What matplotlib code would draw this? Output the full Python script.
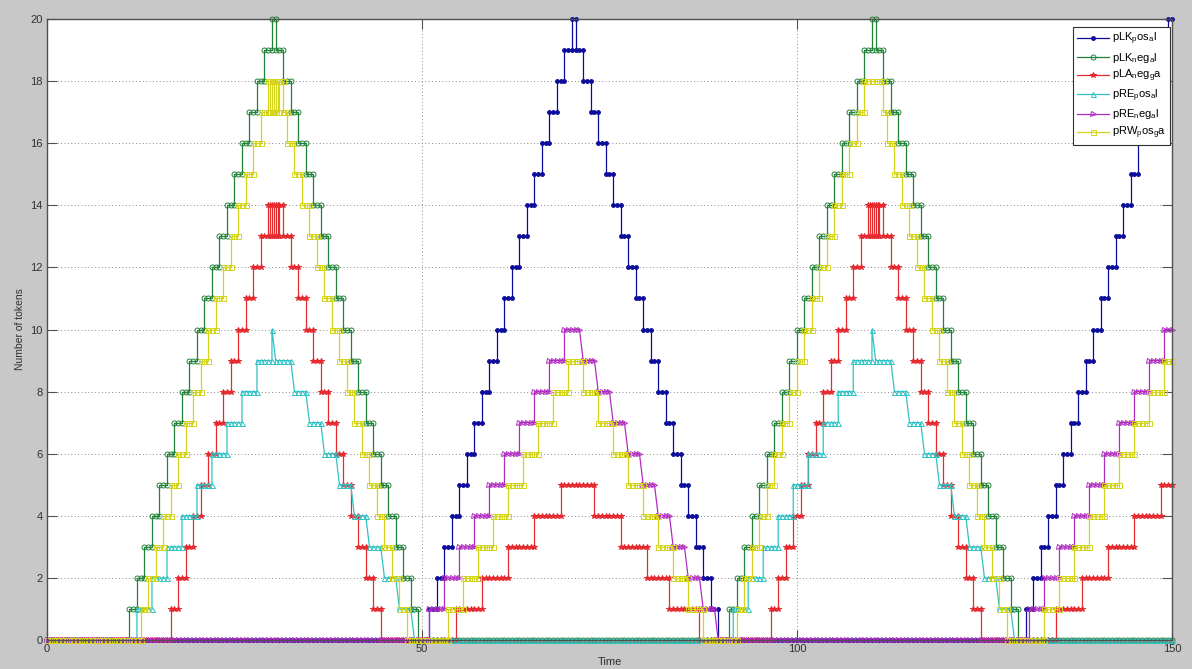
import numpy as np
import matplotlib
matplotlib.use('Agg')
import matplotlib.pyplot as plt

plt.rcParams['font.family'] = ['Liberation Sans', 'DejaVu Sans']
plt.rcParams['mathtext.default'] = 'regular'

# sampling times of the simulation
t_grid = np.arange(0, 150.5, 0.5)

# change points per place: time of change, new number of tokens (0 before the first change)
lk_pos_t = [51, 52, 53, 54, 55, 56, 57, 58, 59, 60, 61, 62, 63, 64, 65, 66, 67, 68, 69, 70,
            70.5, 71.5, 72.5, 73.5, 74.5, 75.5, 76.5, 77.5, 78.5, 79.5, 80.5, 81.5, 82.5, 83.5,
            84.5, 85.5, 86.5, 87.5, 88.5, 89.5,
            130.5, 131.5, 132.5, 133.5, 134.5, 135.5, 136.5, 137.5, 138.5, 139.5, 140.5, 141.5,
            142.5, 143.5, 144.5, 145.5, 146.5, 147.5, 148.5, 149.5]
lk_pos_v = [1, 2, 3, 4, 5, 6, 7, 8, 9, 10, 11, 12, 13, 14, 15, 16, 17, 18, 19, 20,
            19, 18, 17, 16, 15, 14, 13, 12, 11, 10, 9, 8, 7, 6, 5, 4, 3, 2, 1, 0,
            1, 2, 3, 4, 5, 6, 7, 8, 9, 10, 11, 12, 13, 14, 15, 16, 17, 18, 19, 20]

lk_neg_t = [11, 12, 13, 14, 15, 16, 17, 18, 19, 20, 21, 22, 23, 24, 25, 26, 27, 28, 29, 30,
            30.5, 31.5, 32.5, 33.5, 34.5, 35.5, 36.5, 37.5, 38.5, 39.5, 40.5, 41.5, 42.5, 43.5,
            44.5, 45.5, 46.5, 47.5, 48.5, 49.5,
            91, 92, 93, 94, 95, 96, 97, 98, 99, 100, 101, 102, 103, 104, 105, 106, 107, 108, 109, 110,
            110.5, 111.5, 112.5, 113.5, 114.5, 115.5, 116.5, 117.5, 118.5, 119.5, 120.5, 121.5,
            122.5, 123.5, 124.5, 125.5, 126.5, 127.5, 128.5, 129.5]
lk_neg_v = [1, 2, 3, 4, 5, 6, 7, 8, 9, 10, 11, 12, 13, 14, 15, 16, 17, 18, 19, 20,
            19, 18, 17, 16, 15, 14, 13, 12, 11, 10, 9, 8, 7, 6, 5, 4, 3, 2, 1, 0,
            1, 2, 3, 4, 5, 6, 7, 8, 9, 10, 11, 12, 13, 14, 15, 16, 17, 18, 19, 20,
            19, 18, 17, 16, 15, 14, 13, 12, 11, 10, 9, 8, 7, 6, 5, 4, 3, 2, 1, 0]

la_neg_t = [16.5, 17.5, 18.5, 19.5, 20.5, 21.5, 22.5, 23.5, 24.5, 25.5, 26.5, 27.5, 28.5,
            29.5, 29.75, 30, 30.25, 30.5, 30.75, 31, 31.5,
            32.5, 33.5, 34.5, 35.5, 36.5, 37.5, 38.5, 39.5, 40.5, 41.5, 42.5, 43.5, 44.5,
            54.5, 58, 61.5, 65, 68.5, 73, 76.5, 80, 83, 87,
            96.5, 97.5, 98.5, 99.5, 100.5, 101.5, 102.5, 103.5, 104.5, 105.5, 106.5, 107.5, 108.5,
            109.5, 109.75, 110, 110.25, 110.5, 110.75, 111, 111.5,
            112.5, 113.5, 114.5, 115.5, 116.5, 117.5, 118.5, 119.5, 120.5, 121.5, 122.5, 123.5, 124.5,
            134.5, 138, 141.5, 145, 148.5]
la_neg_v = [1, 2, 3, 4, 5, 6, 7, 8, 9, 10, 11, 12, 13,
            14, 13, 14, 13, 14, 13, 14, 13,
            12, 11, 10, 9, 8, 7, 6, 5, 4, 3, 2, 1, 0,
            1, 2, 3, 4, 5, 4, 3, 2, 1, 0,
            1, 2, 3, 4, 5, 6, 7, 8, 9, 10, 11, 12, 13,
            14, 13, 14, 13, 14, 13, 14, 13,
            12, 11, 10, 9, 8, 7, 6, 5, 4, 3, 2, 1, 0,
            1, 2, 3, 4, 5]

re_pos_t = [12, 14, 16, 18, 20, 22, 24, 26, 28, 30, 30.5, 33, 35, 37, 39, 41, 43, 45, 47, 49,
            91.5, 93.5, 95.5, 97.5, 99.5, 101.5, 103.5, 105.5, 107.5, 110, 110.5,
            113, 115, 117, 119, 121, 123, 125, 127, 129]
re_pos_v = [1, 2, 3, 4, 5, 6, 7, 8, 9, 10, 9, 8, 7, 6, 5, 4, 3, 2, 1, 0,
            1, 2, 3, 4, 5, 6, 7, 8, 9, 10, 9, 8, 7, 6, 5, 4, 3, 2, 1, 0]

re_neg_t = [51, 53, 55, 57, 59, 61, 63, 65, 67, 69, 71.5, 73.5, 75.5, 77.5, 79.5, 81.5, 83.5,
            85.5, 87.5, 89.5,
            131, 133, 135, 137, 139, 141, 143, 145, 147, 149]
re_neg_v = [1, 2, 3, 4, 5, 6, 7, 8, 9, 10, 9, 8, 7, 6, 5, 4, 3, 2, 1, 0,
            1, 2, 3, 4, 5, 6, 7, 8, 9, 10]

rw_pos_t = [12.5, 13.5, 14.5, 15.5, 16.5, 17.5, 18.5, 19.5, 20.5, 21.5, 22.5, 23.5, 24.5, 25.5,
            26.5, 27.5, 28.5,
            29.5, 29.75, 30, 30.25, 30.5, 30.75, 31, 31.5,
            32, 33, 34, 35, 36, 37, 38, 39, 40, 41, 42, 43, 44, 45, 46, 47, 48,
            53.5, 55.5, 57.5, 59.5, 61.5, 63.5, 65.5, 67.5, 69.5, 71.5, 73.5, 75.5, 77.5, 79.5,
            81.5, 83.5, 85.5, 87.5,
            92, 93, 94, 95, 96, 97, 98, 99, 100, 101, 102, 103, 104, 105, 106, 107, 108, 109,
            111.5, 112, 113, 114, 115, 116, 117, 118, 119, 120, 121, 122, 123, 124, 125, 126, 127, 128,
            133, 135, 137, 139, 141, 143, 145, 147, 149]
rw_pos_v = [1, 2, 3, 4, 5, 6, 7, 8, 9, 10, 11, 12, 13, 14, 15, 16, 17,
            18, 17, 18, 17, 18, 17, 18, 17,
            16, 15, 14, 13, 12, 11, 10, 9, 8, 7, 6, 5, 4, 3, 2, 1, 0,
            1, 2, 3, 4, 5, 6, 7, 8, 9, 8, 7, 6, 5, 4, 3, 2, 1, 0,
            1, 2, 3, 4, 5, 6, 7, 8, 9, 10, 11, 12, 13, 14, 15, 16, 17, 18,
            17, 16, 15, 14, 13, 12, 11, 10, 9, 8, 7, 6, 5, 4, 3, 2, 1, 0,
            1, 2, 3, 4, 5, 6, 7, 8, 9]

labels = [r'pLK$_p$os$_a$l', r'pLK$_n$eg$_a$l', r'pLA$_n$eg$_g$a',
          r'pRE$_p$os$_a$l', r'pRE$_n$eg$_a$l', r'pRW$_p$os$_g$a']


def build(ch_t, ch_v, slant=False):
    # token count at every sample, plus the old value at each change time
    ch_t = np.asarray(ch_t, float)
    ch_v = np.asarray(ch_v, float)

    def level(x):
        i = np.searchsorted(ch_t, x, side='right') - 1
        return float(ch_v[i]) if i >= 0 else 0.0

    pts = []
    for x in t_grid:
        if not np.any(np.isclose(ch_t, x)):
            pts.append((x, 1, level(x)))
    for x, v in zip(ch_t, ch_v):
        before = level(x - 1e-6)
        if v > before or not slant:
            pts.append((x, 0, before))
        pts.append((x, 1, v))
    pts.sort()
    return [p[0] for p in pts], [p[2] for p in pts]


fig = plt.figure(figsize=(11.92, 6.69), dpi=100, facecolor='#c8c8c8')
ax = fig.add_axes([0.0394, 0.0433, 0.9438, 0.9283])
ax.set_facecolor('white')

series = [
    (lk_pos_t, lk_pos_v, False, '#0c0c9c', '.', 5.5, '#0c0c9c'),
    (lk_neg_t, lk_neg_v, False, '#23823a', 'o', 3.6, 'none'),
    (la_neg_t, la_neg_v, False, '#e42a2e', '*', 4.2, '#e42a2e'),
    (re_pos_t, re_pos_v, True, '#30c2c4', '^', 3.6, 'none'),
    (re_neg_t, re_neg_v, True, '#b02cc0', '>', 3.6, 'none'),
    (rw_pos_t, rw_pos_v, False, '#d4d41c', 's', 3.6, 'none'),
]

for (ct, cv, sl, col, mk, ms, mfc), lab in zip(series, labels):
    xs, ys = build(ct, cv, sl)
    ax.plot(xs, ys, color=col, lw=0.9, marker=mk, ms=ms, mfc=mfc, mec=col, mew=0.7,
            label=lab, clip_on=False)

ax.set_xlim(0, 150)
ax.set_ylim(0, 20)
ax.set_xticks([0, 50, 100, 150])
ax.set_yticks(np.arange(0, 21, 2))
ax.grid(True, color='#8a8a8a', linestyle=(0, (1, 2.5)), linewidth=0.7)
ax.tick_params(direction='in', length=7, width=0.8, color='#505050', labelsize=8,
               top=True, right=True, pad=3, labelcolor='#303030')
for s in ax.spines.values():
    s.set_color('#505050')
    s.set_linewidth(1.0)

ax.set_xlabel('Time', fontsize=8, color='#303030', labelpad=2)
ax.set_ylabel('Number of tokens', fontsize=7.5, color='#303030', labelpad=4)

leg = ax.legend(loc='upper right', bbox_to_anchor=(0.9982, 0.987), borderaxespad=0,
                fontsize=8, handlelength=2.9, handletextpad=0.25, labelspacing=0.3,
                numpoints=1, frameon=True, fancybox=False, borderpad=0.35)
leg.get_frame().set_edgecolor('#303030')
leg.get_frame().set_linewidth(0.8)
leg.get_frame().set_alpha(1)

fig.savefig('out.png', dpi=100, facecolor=fig.get_facecolor())
